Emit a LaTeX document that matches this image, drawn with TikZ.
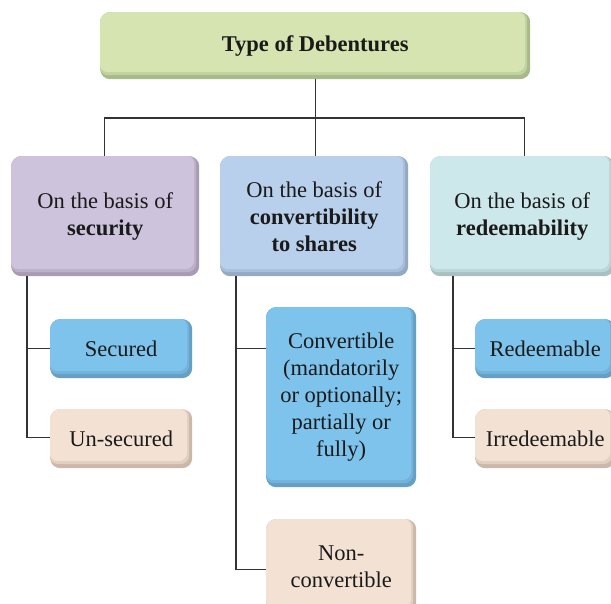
\documentclass[tikz,border=0pt]{standalone}
\usepackage{fontspec}
\setmainfont{Liberation Serif}
\begin{document}
\definecolor{greenF}{HTML}{D5E4B0}\definecolor{greenS}{HTML}{A8B98A}
\definecolor{lilacF}{HTML}{CDC3DC}\definecolor{lilacS}{HTML}{A89BB3}
\definecolor{paleblueF}{HTML}{B8D0EB}\definecolor{paleblueS}{HTML}{94A9C3}
\definecolor{aquaF}{HTML}{CCE8EA}\definecolor{aquaS}{HTML}{A8C0C2}
\definecolor{skyF}{HTML}{7DC3EB}\definecolor{skyS}{HTML}{65A0C4}
\definecolor{peachF}{HTML}{F3E1D4}\definecolor{peachS}{HTML}{CBB8AB}
\definecolor{ink}{HTML}{1A1A1A}
\begin{tikzpicture}[x=1pt,y=-1pt,
  box/.style 2 args={draw=none, fill=#2, rounded corners=10pt, anchor=north west,
    align=center, text=ink, font=\fontsize{22.5}{27}\selectfont, inner sep=0pt,
    path picture={
      \fill[#1!55!#2,rounded corners=9pt]
        ([xshift=-1pt,yshift=1pt]path picture bounding box.north west) rectangle
        ([xshift=-3pt,yshift=4pt]path picture bounding box.south east);
      \fill[#1,rounded corners=9pt]
        ([xshift=-1pt,yshift=1pt]path picture bounding box.north west) rectangle
        ([xshift=-5pt,yshift=7pt]path picture bounding box.south east);}},
  link/.style={draw=black!80, line width=1.2pt}]
\useasboundingbox (0,0) rectangle (611,603);
% root
\node[box={greenF}{greenS}, minimum width=430, minimum height=67,
  font=\fontsize{22.5}{27}\selectfont\bfseries] (root) at (100,12) {Type of Debentures};
% first level
\node[box={lilacF}{lilacS}, minimum width=188, minimum height=120] (sec) at (11,156)
  {On the basis of\\\textbf{security}};
\node[box={paleblueF}{paleblueS}, minimum width=188, minimum height=120] (conv) at (220,156)
  {On the basis of\\\textbf{convertibility}\\\textbf{to shares}};
\node[box={aquaF}{aquaS}, minimum width=184, minimum height=120] (red) at (430,156)
  {On the basis of\\\textbf{redeemability}};
% second level
\node[box={skyF}{skyS}, minimum width=142, minimum height=59] (secd) at (50,319) {Secured};
\node[box={peachF}{peachS}, minimum width=142, minimum height=59] (unsec) at (50,409) {Un-secured};
\node[box={skyF}{skyS}, minimum width=150, minimum height=180] (cv) at (266,307)
  {Convertible\\(mandatorily\\or optionally;\\partially or\\fully)};
\node[box={peachF}{peachS}, minimum width=150, minimum height=95] (ncv) at (266,519)
  {Non-\\convertible};
\node[box={skyF}{skyS}, minimum width=140, minimum height=59] (rdm) at (475,319) {Redeemable};
\node[box={peachF}{peachS}, minimum width=140, minimum height=59] (irr) at (475,409) {Irredeemable};
% connectors
\coordinate (bus) at (315,118);
\draw[link] (root.south) -- (root.south |- conv.north);
\draw[link] ([xshift=-1pt]sec.north) |- (bus) -| ([xshift=2pt]red.north);
\coordinate (s1) at ([xshift=16pt]sec.south west);
\coordinate (s2) at ([xshift=16pt]conv.south west);
\coordinate (s3) at ([xshift=23pt]red.south west);
\draw[link] (s1) |- ([yshift=1pt]unsec.west);
\draw[link] (s1 |- secd.west) -- (secd.west);
\draw[link] (s2) |- ([yshift=-3pt]ncv.west);
\draw[link] (s2 |- secd.west) -- (cv.west |- secd.west);
\draw[link] (s3) |- ([yshift=1pt]irr.west);
\draw[link] (s3 |- rdm.west) -- (rdm.west);
\end{tikzpicture}
\end{document}
